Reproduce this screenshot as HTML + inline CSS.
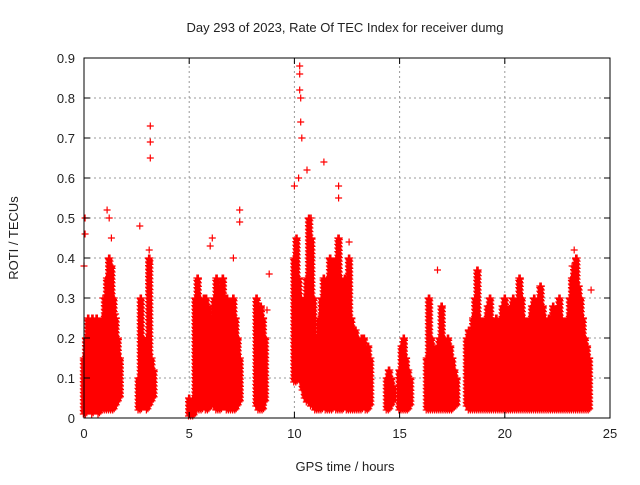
<!DOCTYPE html>
<html><head><meta charset="utf-8"><style>
body{margin:0;background:#fff;}
svg text{font-family:"Liberation Sans",sans-serif;font-size:13px;fill:#222;}
</style></head><body>
<svg id="chart" width="640" height="480" xmlns="http://www.w3.org/2000/svg">
<text x="345" y="32" text-anchor="middle">Day 293 of 2023, Rate Of TEC Index for receiver dumg</text>
<text x="345" y="471" text-anchor="middle">GPS time / hours</text>
<text transform="translate(18,238) rotate(-90)" text-anchor="middle">ROTI / TECUs</text>
<g id="grid"></g>
<g id="marks"></g>
<rect x="84" y="58" width="526" height="360" fill="none" stroke="#000" stroke-width="1"/>
<g id="ticks"></g>
</svg>
<script>
const xTicks=[0,5,10,15,20,25];
const yTicks=[0,0.1,0.2,0.3,0.4,0.5,0.6,0.7,0.8,0.9];
// dense bins: hour, lower, upper ROTI envelope
const binHours=[0.0,0.1,0.2,0.3,0.4,0.5,0.6,0.7,0.8,0.9,1.0,1.1,1.2,1.3,1.4,1.5,1.6,1.7,
2.6,2.7,3.0,3.1,3.2,3.3,
5.0,5.1,5.2,5.3,5.4,5.5,5.6,5.7,5.8,5.9,6.0,6.1,6.2,6.3,6.4,6.5,6.6,6.7,6.8,6.9,7.0,7.1,7.2,7.3,7.4,
8.2,8.3,8.4,8.5,8.6,
10.0,10.1,10.2,10.3,10.4,10.5,10.6,10.7,10.8,10.9,11.0,11.1,11.2,11.3,11.4,11.5,11.6,11.7,11.8,11.9,12.0,12.1,12.2,12.3,12.4,12.5,12.6,12.7,12.8,12.9,13.0,13.1,13.2,13.3,13.4,13.5,13.6,
14.4,14.5,14.6,14.7,15.0,15.1,15.2,15.3,15.4,15.5,
16.3,16.4,16.5,16.6,16.7,16.8,16.9,17.0,17.1,17.2,17.3,17.4,17.5,17.6,17.7,
18.2,18.3,18.4,18.5,18.6,18.7,18.8,18.9,19.0,19.1,19.2,19.3,19.4,19.5,19.6,19.7,19.8,19.9,20.0,20.1,20.2,20.3,20.4,20.5,20.6,20.7,20.8,20.9,21.0,21.1,21.2,21.3,21.4,21.5,21.6,21.7,21.8,21.9,22.0,22.1,22.2,22.3,22.4,22.5,22.6,22.7,22.8,22.9,23.0,23.1,23.2,23.3,23.4,23.5,23.6,23.7,23.8,23.9,24.0];
const binLow=[0.01,0.01,0.02,0.02,0.01,0.02,0.02,0.01,0.02,0.02,0.02,0.02,0.02,0.02,0.02,0.03,0.04,0.05,
0.02,0.02,0.02,0.03,0.04,0.05,
0.005,0.005,0.005,0.02,0.02,0.02,0.02,0.03,0.02,0.02,0.03,0.03,0.03,0.02,0.02,0.02,0.03,0.03,0.02,0.02,0.02,0.02,0.02,0.03,0.04,
0.03,0.02,0.02,0.02,0.04,
0.09,0.09,0.11,0.09,0.07,0.05,0.04,0.04,0.03,0.03,0.02,0.02,0.02,0.02,0.03,0.02,0.02,0.02,0.02,0.03,0.02,0.02,0.02,0.02,0.03,0.02,0.02,0.02,0.02,0.02,0.02,0.02,0.02,0.03,0.02,0.02,0.03,
0.02,0.02,0.03,0.04,0.02,0.02,0.02,0.02,0.02,0.03,
0.02,0.02,0.02,0.02,0.02,0.02,0.02,0.02,0.02,0.02,0.02,0.02,0.02,0.03,0.03,
0.03,0.02,0.02,0.02,0.02,0.02,0.02,0.02,0.02,0.02,0.02,0.02,0.02,0.02,0.02,0.02,0.02,0.02,0.02,0.02,0.02,0.02,0.02,0.02,0.02,0.02,0.02,0.02,0.02,0.02,0.02,0.02,0.02,0.02,0.02,0.02,0.02,0.02,0.02,0.02,0.02,0.02,0.02,0.02,0.02,0.02,0.02,0.02,0.02,0.02,0.02,0.02,0.02,0.02,0.02,0.02,0.02,0.02,0.02];
const binHigh=[0.15,0.2,0.25,0.2,0.25,0.22,0.25,0.2,0.22,0.25,0.3,0.35,0.4,0.38,0.3,0.25,0.2,0.15,
0.1,0.3,0.2,0.4,0.15,0.12,
0.05,0.04,0.05,0.3,0.35,0.3,0.28,0.3,0.3,0.28,0.25,0.25,0.3,0.35,0.32,0.3,0.35,0.3,0.3,0.28,0.25,0.3,0.25,0.2,0.15,
0.3,0.25,0.28,0.25,0.2,
0.4,0.45,0.35,0.3,0.25,0.3,0.35,0.5,0.45,0.3,0.2,0.2,0.25,0.3,0.35,0.3,0.35,0.4,0.25,0.3,0.4,0.45,0.35,0.3,0.35,0.3,0.4,0.25,0.2,0.22,0.2,0.18,0.2,0.2,0.15,0.18,0.15,
0.1,0.12,0.1,0.08,0.12,0.18,0.2,0.15,0.12,0.1,
0.15,0.3,0.2,0.18,0.15,0.15,0.2,0.28,0.2,0.18,0.2,0.18,0.15,0.12,0.1,
0.2,0.22,0.2,0.25,0.3,0.37,0.25,0.22,0.2,0.25,0.28,0.3,0.22,0.2,0.25,0.2,0.22,0.28,0.3,0.25,0.22,0.28,0.3,0.25,0.28,0.35,0.3,0.25,0.22,0.2,0.25,0.28,0.3,0.25,0.3,0.33,0.28,0.25,0.22,0.25,0.2,0.28,0.25,0.22,0.3,0.25,0.2,0.22,0.25,0.3,0.35,0.38,0.4,0.33,0.3,0.25,0.2,0.18,0.15];
// sparse outliers
const outHours=[0.05,0.05,0.0,1.1,1.2,1.5,2.65,3.15,3.15,3.15,3.1,3.1,6.1,6.0,7.4,7.4,7.1,8.8,10.25,10.25,10.25,10.3,10.3,10.35,10.2,10.0,10.6,11.4,12.1,12.1,12.6,10.8,16.8,18.7,23.3,23.2,24.1,8.7,0.9,1.3];
const outRoti=[0.46,0.5,0.38,0.52,0.5,0.26,0.48,0.73,0.69,0.65,0.42,0.39,0.45,0.43,0.52,0.49,0.4,0.36,0.88,0.86,0.82,0.8,0.74,0.7,0.6,0.58,0.62,0.64,0.58,0.55,0.44,0.5,0.37,0.37,0.42,0.38,0.32,0.27,0.3,0.45];

const X0=84,X1=610,Y0=418,Y1=58;
const xs=h=>X0+(h/25)*(X1-X0);
const ys=v=>Y0-(v/0.9)*(Y0-Y1);
const NS="http://www.w3.org/2000/svg";
const grid=document.getElementById('grid'),ticks=document.getElementById('ticks'),marks=document.getElementById('marks');
function mk(tag,attrs,parent){const e=document.createElementNS(NS,tag);for(const k in attrs)e.setAttribute(k,attrs[k]);parent.appendChild(e);return e;}
xTicks.forEach(t=>{const x=xs(t);
 if(t>0&&t<25){const l=mk('line',{x1:x,y1:Y0,x2:x,y2:Y1,stroke:'#999','stroke-dasharray':'2,3'},grid);
 
 }
 const tk=mk('path',{d:`M${x},${Y0}v-6M${x},${Y1}v6`,stroke:'#000'},ticks);
 
 
 const tx=mk('text',{x:x,y:Y0+20,'text-anchor':'middle'},ticks);tx.textContent=t;
 
 });
yTicks.forEach(t=>{const y=ys(t);
 if(t>0&&t<0.9){const l=mk('line',{x1:X0,y1:y,x2:X1,y2:y,stroke:'#999','stroke-dasharray':'2,3'},grid);
 
 }
 const tk=mk('path',{d:`M${X0},${y}h6M${X1},${y}h-6`,stroke:'#000'},ticks);
 
 
 const tx=mk('text',{x:X0-9,y:y+5,'text-anchor':'end'},ticks);tx.textContent=t===0?'0':t.toFixed(1);
 
 });
let d='';
function cross(x,y){d+=`M${(x-3.5).toFixed(1)},${y.toFixed(1)}h7M${x.toFixed(1)},${(y-3.5).toFixed(1)}v7`;}
binHours.forEach((h,i)=>{
 const yl=ys(binLow[i]),yh=ys(binHigh[i]);
 for(const dx of [-0.035,0,0.035]){
  const x=xs(h+dx);
  const off=dx>0?1.2:(dx<0?0:2.4);
  for(let y=yl-off;y>=yh;y-=3.6)cross(x,y);
  cross(x,yh);
 }
});
outHours.forEach((h,i)=>cross(xs(h),ys(outRoti[i])));
const p=mk('path',{d:d,stroke:'#ff0000','stroke-width':'1.2',fill:'none'},marks);


</script>
</body></html>
